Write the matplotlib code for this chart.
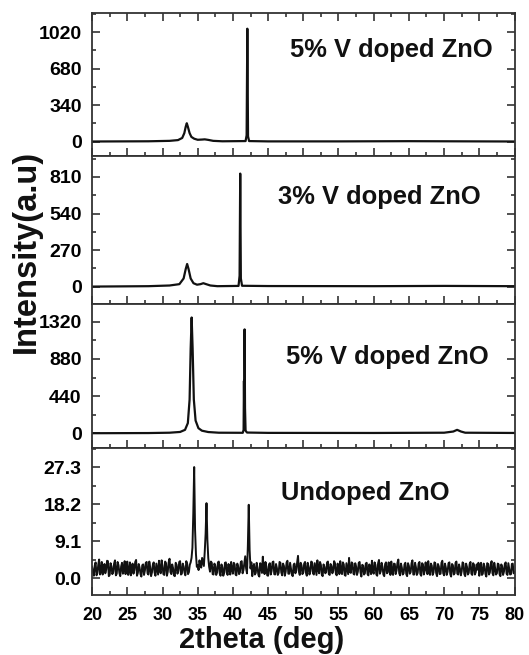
import numpy as np
import matplotlib
matplotlib.use('Agg')
import matplotlib.pyplot as plt
from matplotlib.ticker import FixedLocator, MultipleLocator, FormatStrFormatter

# 5% V doped ZnO (top panel)
x_5a = [20, 28, 31, 32.2, 32.8, 33.1, 33.3, 33.45, 33.6, 33.85, 34.1, 34.5, 35.0, 35.6, 36.0,
        36.5, 37.2, 38.5, 41.8, 41.95, 42.05, 42.15, 42.3, 45, 55, 65, 75, 80]
y_5a = [2, 4, 8, 15, 35, 80, 140, 172, 140, 80, 45, 28, 18, 20, 22,
        17, 8, 4, 6, 60, 1052, 50, 6, 3, 3, 5, 3, 2]

# 3% V doped ZnO
x_3 = [20, 28, 31, 32.4, 33.0, 33.3, 33.5, 33.7, 34.0, 34.4, 34.9, 35.4, 35.8, 36.2, 36.8,
       37.8, 40.8, 40.95, 41.04, 41.13, 41.3, 45, 60, 70, 80]
y_3 = [0, 3, 8, 18, 60, 130, 167, 130, 60, 25, 14, 18, 25, 18, 8,
       3, 5, 80, 835, 60, 6, 4, 3, 5, 3]

# 5% V doped ZnO (second sample)
x_5b = [20, 28, 31, 32.5, 33.2, 33.6, 33.85, 34.0, 34.14, 34.28, 34.45, 34.7, 35.1, 35.6,
        36.5, 38, 41.4, 41.52, 41.57, 41.62, 41.66, 41.72, 41.8, 42.0, 45, 60, 70, 71.3,
        71.85, 72.4, 73, 80]
y_5b = [0, 2, 6, 15, 40, 120, 400, 1000, 1372, 1000, 400, 150, 60, 30,
        14, 6, 5, 40, 620, 150, 1231, 300, 30, 8, 4, 3, 6, 20,
        40, 20, 6, 3]

# undoped ZnO, read every 0.25 deg (20..80) and at the points in between (20.125..79.875)
x_un = np.arange(20, 80.001, 0.25)
y_un = [2.8, 0.6, 3.9, 1.2, 4.6, 1.8, 0.9, 3.5, 2.1, 4.2, 0.8, 2.9, 1.5, 4.4, 1.1, 3.2, 0.5, 3.8, 2.4, 1.0,
        4.1, 1.7, 0.7, 3.6, 2.0, 4.5, 1.3, 2.6, 0.4, 3.4, 1.9, 4.0, 0.9, 2.7, 1.4, 3.9, 0.6, 2.2, 4.3, 1.2,
        3.1, 0.8, 3.7, 1.6, 4.8, 1.0, 2.5, 0.5, 3.3, 1.8, 4.2, 1.1, 2.9, 0.7, 3.6, 1.5, 3.9, 7.5, 27.4, 6.0,
        3.2, 4.4, 2.6, 4.0, 6.5, 18.5, 5.0, 1.6, 3.8, 0.9, 3.0, 1.4, 4.1, 0.6, 2.7, 1.2, 3.9, 0.8, 2.3, 4.0,
        1.1, 3.4, 0.7, 2.8, 1.5, 4.2, 2.0, 5.4, 1.2, 18.1, 2.4, 0.5, 3.5, 1.3, 2.6, 0.4, 3.1, 5.3, 1.0, 2.9,
        0.6, 3.7, 1.8, 4.1, 0.9, 2.5, 1.3, 3.8, 0.7, 3.0, 1.6, 4.3, 1.1, 2.4, 0.5, 3.6, 1.9, 5.5, 0.8, 3.2,
        1.4, 4.0, 0.6, 2.7, 1.7, 3.9, 0.9, 2.2, 4.4, 1.2, 3.3, 0.5, 2.8, 1.5, 4.1, 0.8, 3.0, 1.8, 3.7, 0.7,
        2.6, 4.2, 1.0, 3.4, 0.6, 2.3, 5.0, 1.3, 3.6, 0.9, 2.9, 1.6, 4.0, 0.4, 3.1, 1.2, 3.8, 0.7, 2.5, 4.3,
        1.1, 3.3, 0.6, 4.5, 1.7, 2.8, 0.5, 3.9, 1.4, 2.2, 4.1, 0.8, 3.5, 1.9, 4.6, 0.7, 2.6, 1.2, 3.8, 0.5,
        3.0, 1.5, 4.4, 0.9, 2.7, 1.3, 4.0, 0.6, 3.4, 1.8, 2.3, 4.2, 0.8, 3.1, 1.4, 3.7, 0.5, 2.9, 1.1, 4.3,
        0.7, 2.6, 1.6, 3.9, 0.4, 3.2, 1.2, 4.1, 0.9, 2.4, 1.7, 3.6, 0.5, 2.8, 1.3, 4.0, 0.8, 3.3, 1.5, 2.1,
        0.6, 3.8, 1.1, 2.9, 0.4, 3.5, 1.4, 4.2, 0.7, 2.5, 1.2, 3.4, 0.5, 2.8, 1.6, 3.9, 0.8, 2.3, 1.0, 3.6,
        1.5]
x_un_mid = np.arange(20.125, 80, 0.25)
y_un_mid = [1.5, 3.1, 0.7, 3.3, 0.9, 4.0, 2.6, 1.2, 4.3, 0.5, 3.7, 1.0, 3.6, 0.7, 4.0, 1.3, 2.9, 1.1, 4.2, 3.0,
            0.8, 3.9, 2.5, 1.1, 4.0, 0.6, 3.5, 1.0, 3.2, 0.8, 3.8, 1.2, 4.1, 0.5, 3.3, 1.4, 3.6, 0.9, 2.0, 4.4,
            1.0, 4.1, 0.6, 3.9, 1.5, 3.4, 0.7, 3.8, 1.1, 4.0, 0.9, 3.6, 1.4, 4.2, 1.0, 3.3, 5.0, 16.0, 12.0, 2.8,
            2.0, 3.3, 5.0, 3.0, 11.0, 9.5, 2.8, 4.1, 1.0, 3.6, 0.8, 3.9, 1.2, 3.4, 0.6, 3.8, 1.4, 3.5, 0.9, 2.2,
            3.8, 0.9, 3.6, 1.0, 4.0, 1.2, 3.7, 2.4, 8.0, 7.0, 3.9, 2.8, 0.9, 3.8, 0.8, 3.7, 1.3, 2.2, 4.0, 0.7,
            3.4, 0.9, 3.9, 1.0, 3.5, 0.8, 4.0, 1.4, 3.6, 0.6, 3.9, 1.1, 3.8, 0.9, 3.3, 1.2, 3.9, 1.6, 3.8, 1.0,
            3.6, 1.3, 3.8, 0.9, 4.1, 1.2, 3.7, 0.8, 2.1, 4.0, 0.9, 3.4, 1.2, 3.9, 1.0, 3.5, 1.2, 4.2, 1.1, 3.6,
            1.0, 1.8, 3.9, 0.8, 3.7, 1.0, 1.6, 3.9, 1.1, 3.7, 0.8, 3.8, 1.4, 3.3, 0.9, 3.6, 1.0, 3.4, 1.0, 1.6,
            3.9, 0.9, 3.7, 1.1, 3.8, 0.9, 3.5, 1.2, 3.9, 0.8, 1.5, 3.6, 1.0, 3.8, 1.2, 3.6, 0.9, 3.4, 1.0, 3.7,
            1.1, 3.7, 0.9, 3.8, 0.8, 3.6, 1.0, 3.7, 0.9, 3.9, 1.0, 1.3, 3.6, 0.8, 3.9, 1.2, 3.5, 1.0, 3.8, 1.2,
            3.6, 0.8, 3.7, 1.0, 3.5, 0.9, 3.8, 1.1, 3.4, 0.7, 3.9, 1.0, 3.6, 0.9, 3.5, 1.1, 3.7, 0.9, 3.4, 3.8,
            2.9, 0.8, 3.6, 1.0, 3.7, 0.9, 3.5, 1.2, 3.8, 0.9, 3.6, 1.0, 3.4, 0.8, 3.5, 1.1, 3.7, 0.9, 3.5, 1.2]

x_all = np.concatenate([x_un, x_un_mid])
y_all = np.concatenate([y_un, y_un_mid])
order = np.argsort(x_all)

labels = ['5% V doped ZnO', '3% V doped ZnO', '5% V doped ZnO', 'Undoped ZnO']
yticks = [[0, 340, 680, 1020], [0, 270, 540, 810], [0, 440, 880, 1320], [0.0, 9.1, 18.2, 27.3]]
xs = [x_5a, x_3, x_5b, x_all[order]]
ys = [y_5a, y_3, y_5b, y_all[order]]

plt.rcParams['font.family'] = 'Liberation Sans'
plt.rcParams['font.weight'] = 'bold'

W, H = 529, 655
fig = plt.figure(figsize=(W / 100, H / 100), dpi=100)

# panel edges in pixels (top, bottom)
edges = [(12.8, 156.0), (156.0, 303.5), (303.5, 448.4), (448.4, 595.1)]
ylims = [(-133, 1200), (-125, 965), (-180, 1538), (-4.17, 32.0)]
txt_pos = [(0.709, 0.693), (0.679, 0.675), (0.700, 0.582), (0.647, 0.648)]
left, right = 92.1, 514.5
line_c = '#111111'

for i in range(4):
    top, bot = edges[i]
    ax = fig.add_axes([left / W, 1 - bot / H, (right - left) / W, (bot - top) / H])
    ax.plot(xs[i], ys[i], color=line_c, lw=1.6 if i < 3 else 1.4)
    ax.set_xlim(20, 80)
    ax.set_ylim(*ylims[i])

    ax.xaxis.set_major_locator(MultipleLocator(5))
    ax.xaxis.set_minor_locator(MultipleLocator(2.5))
    ax.yaxis.set_major_locator(FixedLocator(yticks[i]))
    step = yticks[i][1] - yticks[i][0]
    ax.yaxis.set_minor_locator(FixedLocator([v + step / 2 for v in yticks[i]]))
    if i == 3:
        ax.yaxis.set_major_formatter(FormatStrFormatter('%.1f'))
    else:
        ax.yaxis.set_major_formatter(FormatStrFormatter('%d'))

    ax.tick_params(which='both', direction='in', top=(i == 0), bottom=True, left=True, right=True,
                   width=1.2, color='#333333')
    ax.tick_params(which='major', length=6)
    ax.tick_params(which='minor', length=3)
    ax.tick_params(axis='y', labelsize=14, pad=7.5)
    ax.tick_params(axis='x', labelsize=13, pad=8.5, labelbottom=(i == 3))
    for lab in ax.get_xticklabels() + ax.get_yticklabels():
        lab.set_fontweight('bold')
    for sp in ax.spines.values():
        sp.set_linewidth(1.3)
        sp.set_color('#333333')

    ax.text(txt_pos[i][0], txt_pos[i][1], labels[i], transform=ax.transAxes,
            ha='center', va='baseline', fontsize=18.4, fontweight='bold', color='#111111')

fig.text(26 / W, 1 - 251 / H, 'Intensity(a.u)', rotation=90, ha='center', va='center',
         fontsize=23.5, fontweight='bold', color='#111111')
fig.text(261.7 / W, 1 - 648 / H, '2theta (deg)', ha='center', va='baseline',
         fontsize=21, fontweight='bold', color='#111111')

plt.savefig('out.png', dpi=100)
